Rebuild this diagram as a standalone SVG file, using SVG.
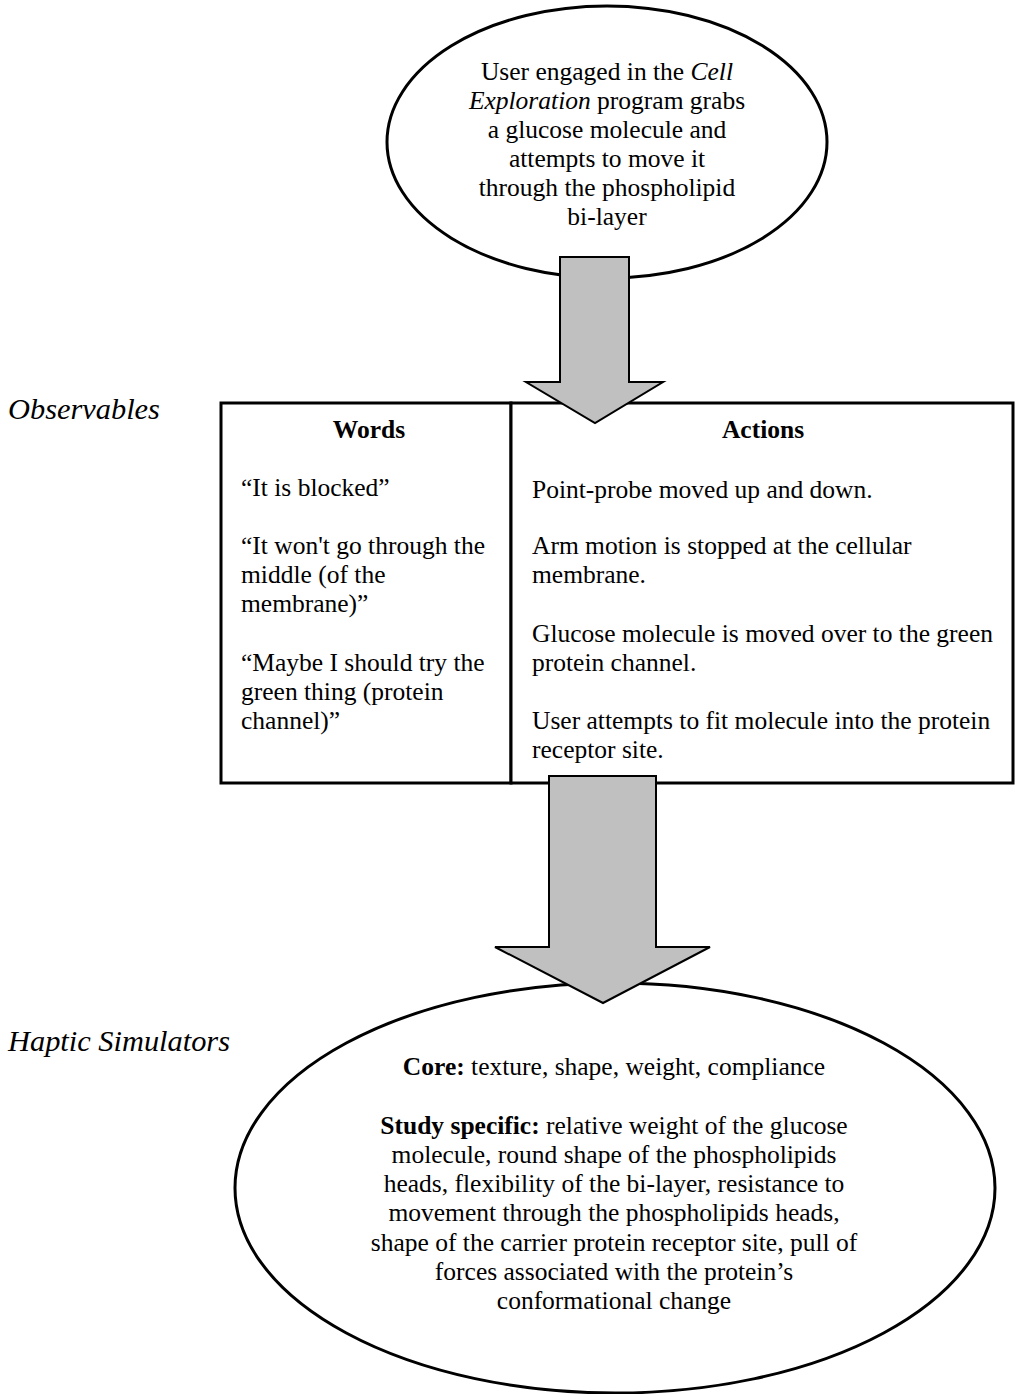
<svg xmlns="http://www.w3.org/2000/svg" width="1015" height="1394" viewBox="0 0 1015 1394">
<style>
text{font-family:"Liberation Serif","Times New Roman",serif;font-size:25.5px;fill:#000}
.c{text-anchor:middle}
.b{font-weight:bold}
.i{font-style:italic}
.lab{font-size:30.4px;font-style:italic}
.shape{fill:#fff;stroke:#000;stroke-width:3}
.arrow{fill:#c0c0c0;stroke:#000;stroke-width:2;stroke-linejoin:miter}
</style>
<rect width="1015" height="1394" fill="#fff"/>
<g id="label-observables"><text class="lab" x="8" y="419">Observables</text></g>
<g id="label-haptic"><text class="lab" x="8" y="1051">Haptic Simulators</text></g>
<g id="node-start">
<ellipse class="shape" cx="607" cy="142" rx="220" ry="136"/>
<text class="c" x="607" y="80">User engaged in the <tspan class="i">Cell</tspan></text>
<text class="c" x="607" y="109"><tspan class="i">Exploration</tspan> program grabs</text>
<text class="c" x="607" y="138">a glucose molecule and</text>
<text class="c" x="607" y="167">attempts to move it</text>
<text class="c" x="607" y="196">through the phospholipid</text>
<text class="c" x="607" y="225">bi-layer</text>
</g>
<g id="node-words">
<rect class="shape" x="221" y="403" width="290" height="380"/>
<text class="c b" x="369" y="438">Words</text>
<text x="241" y="496">“It is blocked”</text>
<text x="241" y="554">“It won't go through the</text>
<text x="241" y="583">middle (of the</text>
<text x="241" y="612">membrane)”</text>
<text x="241" y="671">“Maybe I should try the</text>
<text x="241" y="700">green thing (protein</text>
<text x="241" y="729">channel)”</text>
</g>
<g id="node-actions">
<rect class="shape" x="511" y="403" width="502" height="380"/>
<text class="c b" x="763" y="438">Actions</text>
<text x="532" y="498">Point-probe moved up and down.</text>
<text x="532" y="554">Arm motion is stopped at the cellular</text>
<text x="532" y="583">membrane.</text>
<text x="532" y="642">Glucose molecule is moved over to the green</text>
<text x="532" y="671">protein channel.</text>
<text x="532" y="729">User attempts to fit molecule into the protein</text>
<text x="532" y="758">receptor site.</text>
</g>
<g id="node-haptic">
<ellipse class="shape" cx="615" cy="1188" rx="380" ry="205"/>
<text class="c" x="614" y="1075"><tspan class="b">Core:</tspan> texture, shape, weight, compliance</text>
<text class="c" x="614" y="1134"><tspan class="b">Study specific:</tspan> relative weight of the glucose</text>
<text class="c" x="614" y="1163">molecule, round shape of the phospholipids</text>
<text class="c" x="614" y="1192">heads, flexibility of the bi-layer, resistance to</text>
<text class="c" x="614" y="1221">movement through the phospholipids heads,</text>
<text class="c" x="614" y="1251">shape of the carrier protein receptor site, pull of</text>
<text class="c" x="614" y="1280">forces associated with the protein’s</text>
<text class="c" x="614" y="1309">conformational change</text>
</g>
<g id="connectors">
<path class="arrow" d="M560,257 H629 V382 H663 L595,423 L526,382 H560 Z"/>
<path class="arrow" d="M549,776 H656 V947 H710 L603,1003 L495,947 H549 Z"/>
</g>
</svg>
